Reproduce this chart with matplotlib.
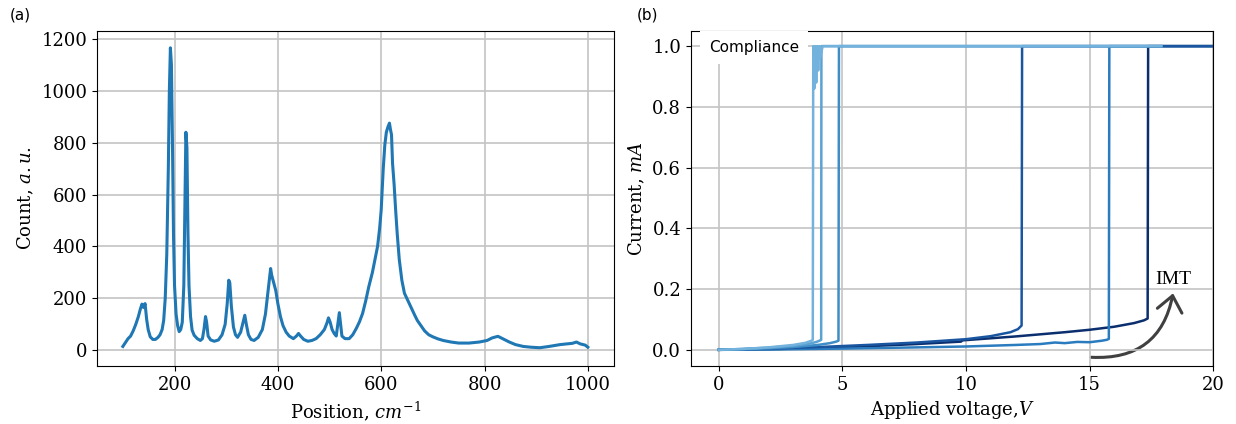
import matplotlib
matplotlib.use('Agg')
import matplotlib.pyplot as plt
from matplotlib.patches import FancyArrowPatch

plt.rcParams['font.family'] = 'serif'
plt.rcParams['font.serif'] = ['DejaVu Serif']
plt.rcParams['mathtext.fontset'] = 'dejavuserif'

# (a) Raman spectrum
ramanPos = [100, 105, 110, 115, 120, 125, 130, 134, 137, 140, 143, 146, 149, 153, 158, 163, 168, 172, 176, 179,
            182, 185, 188, 190, 192, 194, 196, 198, 200, 203, 206, 209, 212, 215, 218, 220, 222, 224, 226, 228,
            231, 234, 238, 244, 250, 254, 257, 260, 262, 265, 270, 277, 285, 292, 298, 302, 305, 307, 310, 314,
            318, 322, 328, 333, 336, 339, 343, 348, 354, 362, 370, 376, 380, 384, 386, 388, 392, 396, 400, 405,
            410, 416, 422, 430, 436, 440, 444, 450, 458, 466, 474, 482, 490, 495, 498, 501, 505, 509, 513, 516,
            519, 521, 524, 530, 538, 545, 552, 558, 564, 570, 576, 583, 588, 593, 597, 600, 604, 607, 610, 613,
            616, 618, 620, 622, 625, 628, 631, 635, 640, 645, 652, 658, 665, 670, 677, 684, 692, 700, 710, 720,
            735, 750, 770, 790, 805, 815, 826, 835, 848, 860, 875, 890, 907, 925, 946, 960, 970, 978, 985, 995,
            1000]
ramanCount = [15, 30, 45, 55, 75, 100, 130, 160, 178, 165, 180, 120, 80, 52, 42, 42, 50, 60, 80, 115,
              200, 370, 700, 1000, 1165, 1100, 800, 450, 250, 140, 95, 72, 80, 108, 250, 550, 840, 780, 450, 250,
              130, 78, 58, 45, 38, 45, 80, 130, 110, 55, 40, 35, 40, 60, 100, 180, 270, 260, 170, 90,
              60, 50, 70, 110, 135, 100, 60, 42, 38, 50, 80, 140, 210, 280, 315, 290, 260, 230, 180, 130,
              95, 70, 55, 45, 55, 65, 55, 42, 35, 38, 45, 60, 80, 105, 125, 110, 80, 65, 55, 100,
              145, 110, 55, 45, 45, 60, 85, 110, 142, 190, 245, 300, 350, 400, 470, 540, 700, 790, 840, 860,
              875, 850, 830, 720, 640, 540, 450, 350, 270, 220, 190, 165, 135, 115, 95, 75, 60, 52, 44, 38,
              32, 28, 28, 32, 38, 48, 54, 45, 32, 22, 15, 12, 10, 15, 22, 25, 27, 32, 25, 20,
              12]

# (b) I-V sweeps
v1 = [0, 1, 2, 3, 3.5, 3.75, 3.8, 3.82, 3.86, 3.9, 3.94, 3.98, 4.02, 4.06, 4.1, 4.2, 17.9]
i1 = [0, 0.003, 0.008, 0.016, 0.023, 0.030, 0.033, 1.0, 0.86, 1.0, 0.88, 1.0, 0.92, 1.0, 0.96, 1.0, 1.0]
v2 = [0, 1, 2, 3, 3.6, 3.95, 4.1, 4.14, 4.15, 17.9]
i2 = [0, 0.003, 0.007, 0.013, 0.019, 0.026, 0.031, 0.033, 1.0, 1.0]
v3 = [0, 1, 2, 3, 4, 4.5, 4.75, 4.84, 4.86, 17.9]
i3 = [0, 0.002, 0.005, 0.009, 0.016, 0.022, 0.027, 0.030, 1.0, 1.0]
v4 = [0, 2, 4, 6, 8, 10, 11, 11.8, 12.1, 12.25, 12.27, 20]
i4 = [0, 0.004, 0.009, 0.016, 0.024, 0.035, 0.045, 0.058, 0.068, 0.080, 1.0, 1.0]
v5 = [0, 2, 5, 8, 10, 12, 13, 13.6, 14, 14.5, 15, 15.5, 15.7, 15.78, 15.8, 20]
i5 = [0, 0.001, 0.004, 0.008, 0.011, 0.016, 0.019, 0.024, 0.022, 0.026, 0.025, 0.030, 0.033, 0.036, 1.0, 1.0]
v6 = [0, 2, 5, 8, 9.8, 9.85, 10, 12, 14, 15, 16, 16.8, 17.2, 17.35, 17.37, 20]
i6 = [0, 0.002, 0.008, 0.019, 0.027, 0.031, 0.032, 0.044, 0.058, 0.066, 0.076, 0.088, 0.097, 0.103, 1.0, 1.0]

sweeps = [(v6, i6, '#0b2f6e'), (v5, i5, '#2b7bbf'), (v4, i4, '#1a55a0'),
          (v3, i3, '#3f8dc6'), (v2, i2, '#5aa2d2'), (v1, i1, '#72b2dc')]

fig = plt.figure(figsize=(12.36, 4.24), dpi=100)
ax1 = fig.add_axes([0.0785, 0.137, 0.418, 0.79])
ax2 = fig.add_axes([0.559, 0.137, 0.4225, 0.79])

ax1.plot(ramanPos, ramanCount, color='#1f77b4', lw=2.2)
ax1.set_xlim(50, 1050)
ax1.set_ylim(-60, 1230)
ax1.set_xticks([200, 400, 600, 800, 1000])
ax1.set_yticks([0, 200, 400, 600, 800, 1000, 1200])
ax1.set_xlabel('Position, $cm^{-1}$', fontsize=13)
ax1.set_ylabel('Count, $a{.}u{.}$', fontsize=13)
ax1.grid(True, color='#c4c4c4', lw=1.2)
ax1.tick_params(labelsize=13)

for v, i, c in sweeps:
    ax2.plot(v, i, color=c, lw=1.8)
ax2.set_xlim(-1.13, 20)
ax2.set_ylim(-0.053, 1.05)
ax2.set_xticks([0, 5, 10, 15, 20])
ax2.set_yticks([0.0, 0.2, 0.4, 0.6, 0.8, 1.0])
ax2.set_xlabel('Applied voltage,$V$', fontsize=13)
ax2.set_ylabel('Current, $mA$', fontsize=13)
ax2.grid(True, color='#c4c4c4', lw=1.2)
ax2.tick_params(labelsize=13)

ax2.text(-0.4, 0.995, 'Compliance', family='DejaVu Sans', fontsize=11, va='center', ha='left',
         bbox=dict(boxstyle='square,pad=0.6', fc='white', ec='none'), zorder=5)
ax2.text(18.4, 0.23, 'IMT', family='Liberation Serif', fontsize=14, ha='center', va='center')
arrow = FancyArrowPatch((14.95, -0.024), (18.4, 0.195), connectionstyle='arc3,rad=0.45',
                        arrowstyle='->,head_width=0.45,head_length=0.55', mutation_scale=20,
                        color='#404040', lw=2.2)
ax2.add_patch(arrow)

fig.text(0.008, 0.955, '(a)', family='DejaVu Sans', fontsize=11)
fig.text(0.515, 0.955, '(b)', family='DejaVu Sans', fontsize=11)

fig.savefig('out.png', dpi=100)
